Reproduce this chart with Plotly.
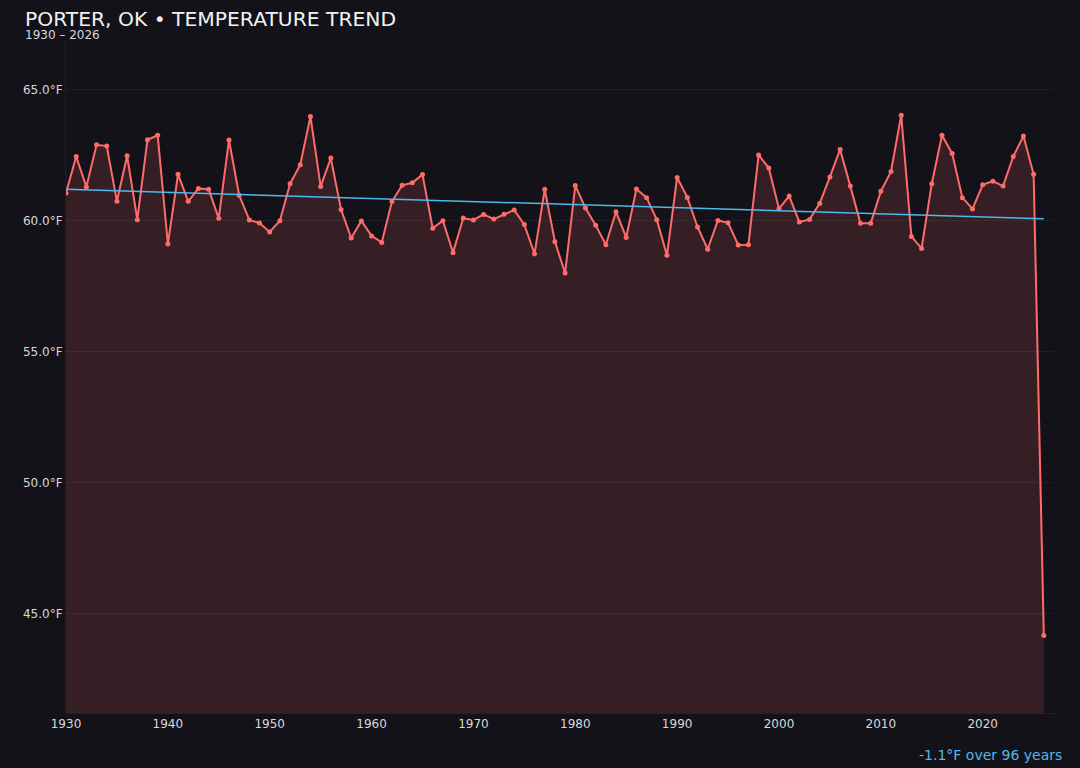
import numpy as np
import plotly.graph_objects as go

# annual mean temperature, Porter OK
years = list(range(1930, 2027))
temps = [
    61.06, 62.45, 61.29, 62.90, 62.85, 60.74, 62.48, 60.04, 63.09, 63.26,  # 1930s
    59.11, 61.77, 60.74, 61.23, 61.20, 60.09, 63.08, 60.97, 60.03, 59.91,  # 1940s
    59.57, 60.00, 61.41, 62.14, 63.98, 61.31, 62.39, 60.43, 59.34, 59.99,  # 1950s
    59.42, 59.17, 60.73, 61.35, 61.45, 61.76, 59.71, 60.00, 58.78, 60.10,  # 1960s
    60.03, 60.24, 60.06, 60.25, 60.41, 59.85, 58.73, 61.20, 59.20, 58.00,  # 1970s
    61.34, 60.48, 59.83, 59.08, 60.34, 59.36, 61.21, 60.88, 60.04, 58.68,  # 1980s
    61.65, 60.89, 59.76, 58.91, 60.01, 59.92, 59.07, 59.08, 62.51, 62.01,  # 1990s
    60.46, 60.94, 59.95, 60.05, 60.66, 61.67, 62.72, 61.32, 59.90, 59.90,  # 2000s
    61.12, 61.88, 64.03, 59.40, 58.94, 61.41, 63.26, 62.57, 60.88, 60.45,  # 2010s
    61.37, 61.51, 61.32, 62.45, 63.23, 61.77, 44.16,                      # 2020s
]
y_ticks = [45, 50, 55, 60, 65]
x_ticks = [1930, 1940, 1950, 1960, 1970, 1980, 1990, 2000, 2010, 2020]

BG = "#131218"
RED = "#ff6b6b"
BLUE = "#4fb8ec"

# linear trend
slope, intercept = np.polyfit(years, temps, 1)
trend = [slope * yr + intercept for yr in years]
change = trend[-1] - trend[0]
span = years[-1] - years[0]

fig = go.Figure()
fig.add_trace(go.Scatter(
    x=years, y=temps, mode="lines+markers", name="Annual mean",
    line=dict(color=RED, width=2), marker=dict(color=RED, size=5),
    fill="tozeroy", fillcolor="rgba(255,107,107,0.15)",
))
fig.add_trace(go.Scatter(
    x=[years[0], years[-1]], y=[trend[0], trend[-1]], mode="lines", name="Trend",
    line=dict(color=BLUE, width=1.5),
))

fig.update_layout(
    width=1080, height=768,
    paper_bgcolor=BG, plot_bgcolor=BG,
    margin=dict(l=66, r=26, t=40, b=55),
    showlegend=False,
    font=dict(family="DejaVu Sans", color="#d8d8dc", size=12),
)
fig.update_xaxes(
    range=[1930, 2027], tickvals=x_ticks, showgrid=False, zeroline=False,
    showline=True, linecolor="#24232b", linewidth=1,
    ticks="", tickfont=dict(size=12, color="#d8d8dc"),
)
fig.update_yaxes(
    range=[41.2, 66.9], tickvals=y_ticks, ticktext=[f"{v:.1f}°F" for v in y_ticks],
    showgrid=True, gridcolor="#1f1e25", zeroline=False,
    showline=True, linecolor="#1f1e25", ticks="",
    tickfont=dict(size=12, color="#d8d8dc"),
)

fig.add_annotation(
    text="PORTER, OK • TEMPERATURE TREND", xref="paper", yref="paper",
    x=(23 - 66) / 988, y=(713 - 19) / 673, xanchor="left", yanchor="middle",
    showarrow=False, font=dict(size=20.3, color="#f2f2f4"),
)
fig.add_annotation(
    text=f"{years[0]} – {years[-1]}", xref="paper", yref="paper",
    x=(23 - 66) / 988, y=(713 - 35) / 673, xanchor="left", yanchor="middle",
    showarrow=False, font=dict(size=12, color="#d8d8dc"),
)
fig.add_annotation(
    text=f"{change:+.1f}°F over {span} years".replace("+", ""), xref="paper", yref="paper",
    x=(1064 - 66) / 988, y=(713 - 755) / 673, xanchor="right", yanchor="middle",
    showarrow=False, font=dict(size=14, color=BLUE),
)

# no page margin so the figure fills the window
fig.write_html(
    "out.html",
    config={"displayModeBar": False},
    post_script="document.body.style.margin='0';document.body.style.background='%s';" % BG,
)
